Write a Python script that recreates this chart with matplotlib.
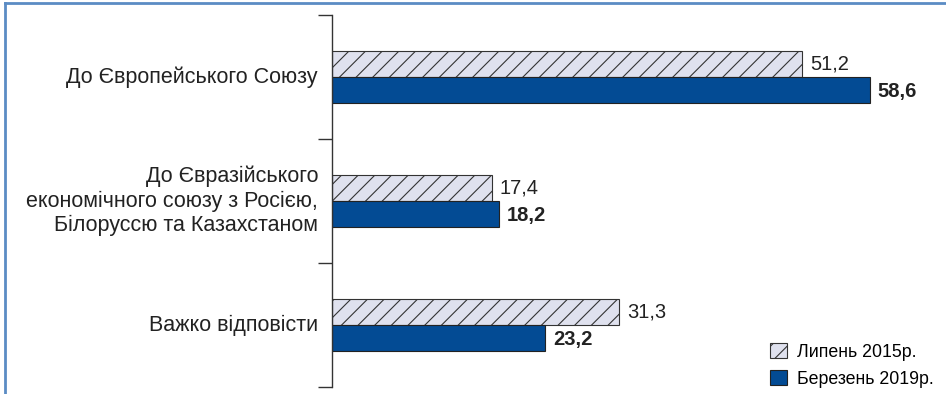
import matplotlib
matplotlib.use("Agg")
import matplotlib.pyplot as plt
from matplotlib.patches import Patch
from matplotlib.lines import Line2D
from matplotlib.transforms import offset_copy

categories = ["До Європейського Союзу",
              "До Євразійського\nекономічного союзу з Росією,\nБілоруссю та Казахстаном",
              "Важко відповісти"]
july_2015 = [51.2, 17.4, 31.3]
march_2019 = [58.6, 18.2, 23.2]
series_labels = ["Липень 2015р.", "Березень 2019р."]

plt.rcParams['font.family'] = ['Liberation Sans', 'DejaVu Sans']
plt.rcParams['hatch.linewidth'] = 0.8
plt.rcParams['hatch.color'] = '#333333'

W, H = 946, 394
fig = plt.figure(figsize=(W/100, H/100), dpi=100)
ax = fig.add_axes([332/W, 1-387/H, (940-332)/W, (387-15)/H])

px_per_unit = 9.18
ax.set_xlim(0, (940-332)/px_per_unit)
ax.set_ylim(2.5, -0.5)

bh = 26/124
light = '#dfe1ee'
dark = '#034b94'
ys = list(range(len(categories)))
for i, y in enumerate(ys):
    ax.barh(y - bh/2, july_2015[i], height=bh, color=light, edgecolor='#333333',
            hatch='//', linewidth=0.8)
    ax.barh(y + bh/2, march_2019[i], height=bh, color=dark, edgecolor='#222222',
            linewidth=0.8)
    ax.text(july_2015[i] + 0.85, y - bh/2, f"{july_2015[i]:.1f}".replace('.', ','),
            va='center', ha='left', fontsize=14.5, color='#222222')
    ax.text(march_2019[i] + 0.85, y + bh/2 + 0.01, f"{march_2019[i]:.1f}".replace('.', ','),
            va='center', ha='left', fontsize=14.5, fontweight='bold', color='#222222')

ax.set_yticks([-0.5, 0.5, 1.5, 2.5])
ax.set_yticklabels([])
ax.tick_params(axis='y', length=10, width=1, color='#333333', direction='out')
lab_tr = offset_copy(ax.get_yaxis_transform(), fig=fig, x=-14, y=0, units='dots')
for i, c in enumerate(categories):
    ax.text(0, i, c, transform=lab_tr, ha='right', va='center',
            fontsize=15.5, color='#222222', linespacing=1.22)

ax.set_xticks([])
for s in ['top', 'right', 'bottom']:
    ax.spines[s].set_visible(False)
ax.spines['left'].set_color('#333333')
ax.spines['left'].set_linewidth(1)

handles = [Patch(facecolor=light, edgecolor='#333333', hatch='//', linewidth=0.8),
           Patch(facecolor=dark, edgecolor='#222222', linewidth=0.8)]
leg = fig.legend(handles, series_labels, loc='lower right', bbox_to_anchor=(946/W, 1-400/H),
                 frameon=False, handlelength=0.95, handleheight=0.95,
                 handletextpad=0.55, labelspacing=0.5, borderaxespad=0.3,
                 prop={'family': ['Liberation Sans Narrow', 'Liberation Sans'], 'size': 12.8})

# figure border (left and top)
fig.add_artist(Line2D([5/W, 5/W], [0, 1-3/H], transform=fig.transFigure, color='#5b8cc4', lw=2))
fig.add_artist(Line2D([5/W, 1], [1-3/H, 1-3/H], transform=fig.transFigure, color='#5b8cc4', lw=2))

fig.savefig("out.png", dpi=100)
